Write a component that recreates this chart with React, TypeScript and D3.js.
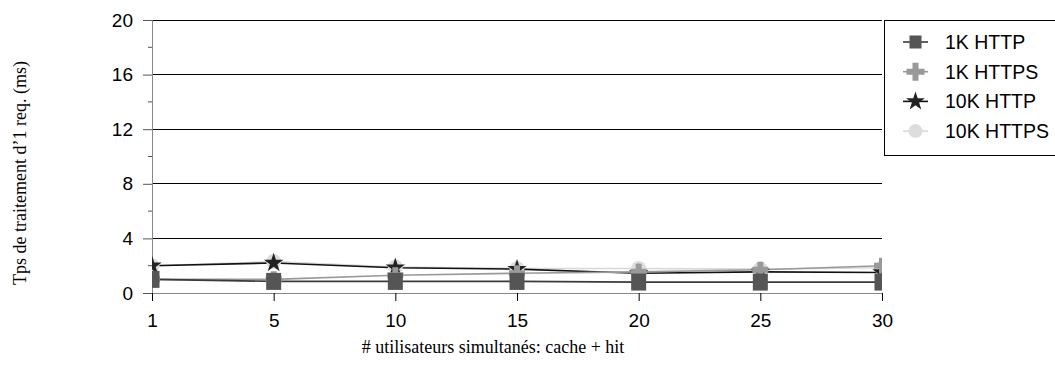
import React, { useEffect, useRef } from 'react'
import * as d3 from 'd3'

const categories = ['1', '5', '10', '15', '20', '25', '30']
const yTicks = [0, 4, 8, 12, 16, 20]
const yMinorTicks = [2, 6, 10, 14, 18]

const http1k = [1.0, 0.85, 0.85, 0.85, 0.8, 0.8, 0.8]
const https1k = [1.0, 1.0, 1.3, 1.45, 1.55, 1.7, 2.0]
const http10k = [2.0, 2.2, 1.85, 1.75, 1.45, 1.55, 1.5]
const https10k = [2.0, 2.3, 1.9, 1.8, 1.8, 1.75, 1.85]

const seriesNames = ['1K HTTP', '1K HTTPS', '10K HTTP', '10K HTTPS']

const W = 1055
const H = 366

const plusPath = (h: number, t: number) =>
  `M${-t},${-h}H${t}V${-t}H${h}V${t}H${t}V${h}H${-t}V${t}H${-h}V${-t}H${-t}Z`

export default function App() {
  const svgRef = useRef<SVGSVGElement>(null)

  useEffect(() => {
    if (!svgRef.current) return
    const svg = d3.select(svgRef.current)
    svg.selectAll('*').remove()

    const left = 152
    const right = 882
    const top = 20
    const bottom = 293

    const x = d3.scalePoint<string>().domain(categories).range([left, right])
    const y = d3.scaleLinear().domain([0, 20]).range([bottom, top])

    const series = [
      { name: seriesNames[0], values: http1k, stroke: '#3a3a3a', fill: '#555', kind: 'square' },
      { name: seriesNames[1], values: https1k, stroke: '#999', fill: '#999', kind: 'plus' },
      { name: seriesNames[2], values: http10k, stroke: '#111', fill: '#222', kind: 'star' },
      { name: seriesNames[3], values: https10k, stroke: '#d8d8d8', fill: '#ddd', kind: 'circle' },
    ]

    const drawMarker = (g: any, kind: string, fill: string, legend: boolean) => {
      if (kind === 'square') {
        const w = legend ? 12 : 15
        const h = legend ? 13 : 17
        g.append('rect').attr('x', -w / 2).attr('y', -h / 2).attr('width', w).attr('height', h).attr('fill', fill)
      } else if (kind === 'plus') {
        g.append('path').attr('d', plusPath(legend ? 9 : 8, 3)).attr('fill', fill)
      } else if (kind === 'star') {
        g.append('path').attr('d', d3.symbol(d3.symbolStar, legend ? 110 : 117)()).attr('fill', fill)
      } else {
        g.append('circle').attr('r', legend ? 7 : 7.5).attr('fill', fill)
      }
    }

    svg.append('defs').append('clipPath').attr('id', 'plot-clip')
      .append('rect').attr('x', left).attr('y', 0).attr('width', right - left).attr('height', bottom)

    // gridlines
    svg.append('g').selectAll('line')
      .data(yTicks.filter(d => d > 0))
      .enter().append('line')
      .attr('x1', left).attr('x2', right)
      .attr('y1', d => y(d)).attr('y2', d => y(d))
      .attr('stroke', '#000').attr('stroke-width', 1)
      .attr('shape-rendering', 'crispEdges')

    // y axis
    const yAxis = d3.axisLeft(y).tickValues(yTicks).tickSize(9).tickPadding(10)
    const yg = svg.append('g').attr('transform', `translate(${left},0)`).call(yAxis)
    yg.select('.domain').attr('stroke', '#888')
    yg.selectAll('.tick line').attr('stroke', '#555')
    yg.selectAll('text').attr('font-family', 'Arial, "Liberation Sans", sans-serif').attr('font-size', 19).attr('fill', '#000')
    yg.selectAll('.minor').data(yMinorTicks).enter().append('line')
      .attr('x1', -4).attr('x2', 0).attr('y1', d => y(d)).attr('y2', d => y(d)).attr('stroke', '#555')

    // x axis
    const xAxis = d3.axisBottom(x).tickSize(8).tickPadding(13).tickSizeOuter(0)
    const xg = svg.append('g').attr('transform', `translate(0,${bottom})`).call(xAxis)
    xg.select('.domain').attr('stroke', '#888')
    xg.selectAll('.tick line').attr('stroke', '#000')
    xg.selectAll('text').attr('font-family', 'Arial, "Liberation Sans", sans-serif').attr('font-size', 19).attr('fill', '#000')

    const plot = svg.append('g').attr('clip-path', 'url(#plot-clip)')
    const line = d3.line<number>().x((d, i) => x(categories[i]) as number).y(d => y(d))

    const order = [3, 2, 1, 0]
    order.forEach(i => {
      const s = series[i]
      plot.append('path').datum(s.values).attr('d', line)
        .attr('fill', 'none').attr('stroke', s.stroke).attr('stroke-width', 1.6)
    })
    order.forEach(i => {
      const s = series[i]
      s.values.forEach((v, j) => {
        const g = plot.append('g').attr('transform', `translate(${x(categories[j])},${y(v)})`)
        drawMarker(g, s.kind, s.fill, false)
      })
    })

    // legend
    const lg = svg.append('g')
    lg.append('rect').attr('x', 884.5).attr('y', 20.5).attr('width', 200).attr('height', 135)
      .attr('fill', '#fff').attr('stroke', '#000').attr('stroke-width', 1)
    series.forEach((s, i) => {
      const cy = 42 + i * 29.7
      lg.append('line').attr('x1', 903).attr('x2', 928).attr('y1', cy).attr('y2', cy)
        .attr('stroke', s.stroke).attr('stroke-width', 1.6)
      const g = lg.append('g').attr('transform', `translate(915.5,${cy})`)
      drawMarker(g, s.kind, s.fill, true)
      lg.append('text').attr('x', 945).attr('y', cy + 7)
        .attr('font-family', 'Arial, "Liberation Sans", sans-serif').attr('font-size', 19.5)
        .text(s.name)
    })

    // axis titles
    svg.append('text').attr('x', 493).attr('y', 353).attr('text-anchor', 'middle')
      .attr('font-family', '"Times New Roman", "Liberation Serif", serif').attr('font-size', 18)
      .text('# utilisateurs simultanés: cache + hit')
    svg.append('text').attr('transform', 'translate(26,173) rotate(-90)').attr('text-anchor', 'middle')
      .attr('font-family', '"Times New Roman", "Liberation Serif", serif').attr('font-size', 18)
      .text('Tps de traitement d\u20191 req. (ms)')
  }, [])

  return (
    <div style={{ position: 'absolute', left: 0, top: 0, width: W, height: H, background: '#fff' }}>
      <svg ref={svgRef} width={W} height={H} />
    </div>
  )
}
